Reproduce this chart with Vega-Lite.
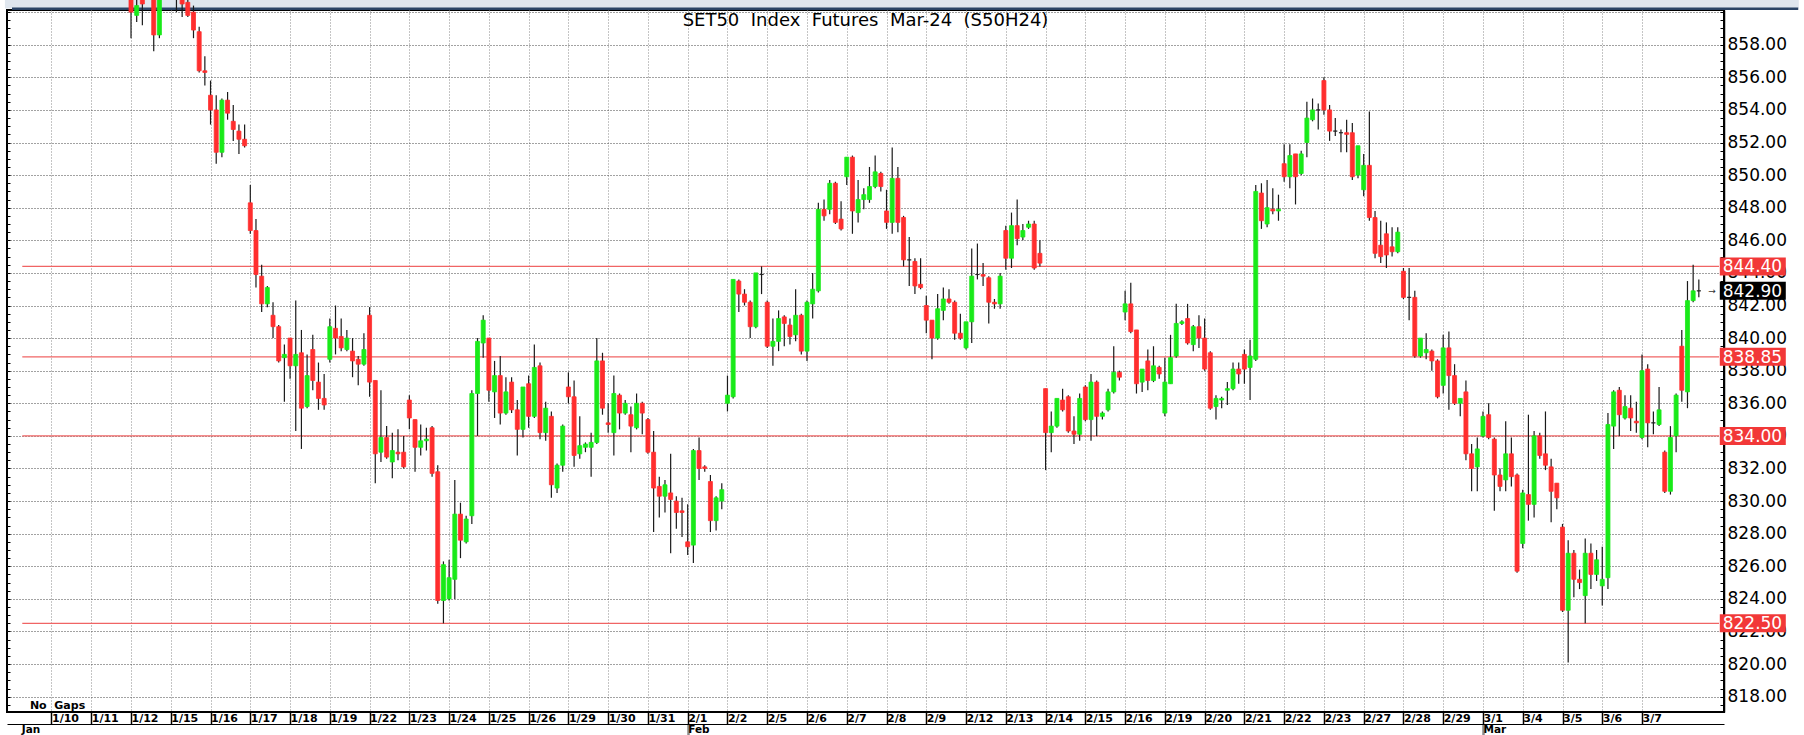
{
  "$schema": "https://vega.github.io/schema/vega-lite/v6.json",
  "width": 1717,
  "height": 702,
  "autosize": {"type": "none"},
  "padding": {"left": 7, "top": 10, "right": 80, "bottom": 23},
  "background": "white",
  "config": {"view": {"stroke": "#000", "strokeWidth": 2}},
  "datasets": {
    "levels": [
      {"price": 844.4, "label": "844.40", "kind": "level"},
      {"price": 838.85, "label": "838.85", "kind": "level"},
      {"price": 834.0, "label": "834.00", "kind": "level"},
      {"price": 822.5, "label": "822.50", "kind": "level"},
      {"price": 842.9, "label": "842.90", "kind": "last"}
    ],
    "bars": [
      {"n":21,"o":861.0,"h":861.5,"l":858.4,"c":860.0},
      {"n":22,"o":859.8,"h":861.0,"l":859.4,"c":860.4},
      {"n":23,"o":860.8,"h":861.3,"l":859.2,"c":860.5},
      {"n":25,"o":861.2,"h":861.6,"l":857.6,"c":858.6},
      {"n":26,"o":858.6,"h":861.2,"l":858.4,"c":860.8},
      {"n":29,"o":861.2,"h":861.5,"l":860.0,"c":860.8},
      {"n":30,"o":861.0,"h":861.5,"l":859.7,"c":860.5},
      {"n":31,"o":860.6,"h":861.0,"l":859.7,"c":859.8},
      {"n":32,"o":860.0,"h":860.4,"l":858.4,"c":858.9},
      {"n":33,"o":858.8,"h":859.1,"l":856.3,"c":856.4},
      {"n":34,"o":856.4,"h":857.3,"l":855.5,"c":856.3},
      {"n":35,"o":854.9,"h":855.8,"l":853.1,"c":854.0},
      {"n":36,"o":854.0,"h":854.9,"l":850.7,"c":851.4},
      {"n":37,"o":851.4,"h":854.7,"l":851.1,"c":854.6},
      {"n":38,"o":854.6,"h":855.1,"l":853.4,"c":853.8},
      {"n":39,"o":853.3,"h":854.3,"l":852.1,"c":852.8},
      {"n":40,"o":852.7,"h":853.1,"l":851.3,"c":852.2},
      {"n":41,"o":852.2,"h":853.1,"l":851.7,"c":851.8},
      {"n":42,"o":848.3,"h":849.4,"l":846.4,"c":846.6},
      {"n":43,"o":846.6,"h":847.3,"l":843.1,"c":843.9},
      {"n":44,"o":843.8,"h":844.5,"l":841.6,"c":842.1},
      {"n":45,"o":842.1,"h":843.2,"l":841.9,"c":843.1},
      {"n":46,"o":841.4,"h":842.2,"l":840.0,"c":840.7},
      {"n":47,"o":840.7,"h":840.8,"l":838.5,"c":838.6},
      {"n":48,"o":838.8,"h":839.6,"l":836.1,"c":839.0},
      {"n":49,"o":840.0,"h":840.0,"l":837.5,"c":838.3},
      {"n":50,"o":838.3,"h":842.3,"l":834.3,"c":839.0},
      {"n":51,"o":839.1,"h":840.5,"l":833.2,"c":835.7},
      {"n":52,"o":835.8,"h":839.0,"l":835.7,"c":837.7},
      {"n":53,"o":839.3,"h":840.2,"l":836.8,"c":837.4},
      {"n":54,"o":837.3,"h":838.5,"l":835.6,"c":836.3},
      {"n":55,"o":836.3,"h":837.8,"l":835.6,"c":835.9},
      {"n":56,"o":838.7,"h":841.2,"l":838.5,"c":840.7},
      {"n":57,"o":840.6,"h":842.0,"l":839.0,"c":840.0},
      {"n":58,"o":840.1,"h":841.2,"l":839.2,"c":839.4},
      {"n":59,"o":839.3,"h":840.5,"l":839.2,"c":840.0},
      {"n":60,"o":839.2,"h":840.0,"l":837.6,"c":838.6},
      {"n":61,"o":838.7,"h":838.9,"l":837.1,"c":838.4},
      {"n":62,"o":838.4,"h":840.3,"l":838.3,"c":839.3},
      {"n":63,"o":841.4,"h":841.9,"l":836.4,"c":837.3},
      {"n":64,"o":837.4,"h":837.4,"l":831.1,"c":832.9},
      {"n":65,"o":833.0,"h":836.8,"l":832.4,"c":833.9},
      {"n":66,"o":833.9,"h":834.6,"l":832.6,"c":832.7},
      {"n":67,"o":832.4,"h":834.2,"l":831.4,"c":833.1},
      {"n":68,"o":833.0,"h":834.4,"l":832.5,"c":832.9},
      {"n":69,"o":833.0,"h":834.0,"l":832.0,"c":832.1},
      {"n":70,"o":836.2,"h":836.5,"l":834.4,"c":835.1},
      {"n":71,"o":835.0,"h":835.0,"l":831.8,"c":833.3},
      {"n":72,"o":833.3,"h":834.7,"l":832.8,"c":833.7},
      {"n":73,"o":833.7,"h":834.5,"l":833.1,"c":833.8},
      {"n":74,"o":834.5,"h":834.6,"l":831.5,"c":831.7},
      {"n":75,"o":831.8,"h":832.2,"l":823.7,"c":823.9},
      {"n":76,"o":823.9,"h":826.3,"l":822.5,"c":826.1},
      {"n":77,"o":824.0,"h":826.4,"l":823.9,"c":825.3},
      {"n":78,"o":825.2,"h":831.3,"l":824.0,"c":829.2},
      {"n":79,"o":829.2,"h":829.9,"l":826.5,"c":827.6},
      {"n":80,"o":827.5,"h":829.1,"l":827.4,"c":828.9},
      {"n":81,"o":829.1,"h":836.8,"l":828.6,"c":836.6},
      {"n":82,"o":836.6,"h":840.0,"l":834.0,"c":839.8},
      {"n":83,"o":839.7,"h":841.4,"l":838.8,"c":841.1},
      {"n":84,"o":840.0,"h":840.0,"l":836.1,"c":836.8},
      {"n":85,"o":836.7,"h":838.6,"l":835.1,"c":837.7},
      {"n":86,"o":837.7,"h":838.9,"l":834.7,"c":835.4},
      {"n":87,"o":835.4,"h":837.6,"l":835.3,"c":836.7},
      {"n":88,"o":837.3,"h":837.6,"l":835.4,"c":835.6},
      {"n":89,"o":835.6,"h":836.2,"l":832.8,"c":834.4},
      {"n":90,"o":834.4,"h":837.0,"l":833.9,"c":837.0},
      {"n":91,"o":837.2,"h":837.7,"l":834.5,"c":835.2},
      {"n":92,"o":835.2,"h":839.6,"l":835.1,"c":838.2},
      {"n":93,"o":838.3,"h":838.5,"l":833.8,"c":834.2},
      {"n":94,"o":834.2,"h":836.1,"l":833.7,"c":835.7},
      {"n":95,"o":835.2,"h":835.5,"l":830.2,"c":831.0},
      {"n":96,"o":830.8,"h":832.3,"l":830.5,"c":832.2},
      {"n":97,"o":832.2,"h":834.7,"l":831.8,"c":834.6},
      {"n":98,"o":837.0,"h":837.9,"l":836.0,"c":836.4},
      {"n":99,"o":836.4,"h":837.4,"l":832.1,"c":832.8},
      {"n":100,"o":832.9,"h":835.2,"l":832.6,"c":833.4},
      {"n":101,"o":833.3,"h":833.6,"l":833.0,"c":833.5},
      {"n":102,"o":833.3,"h":834.2,"l":831.5,"c":833.6},
      {"n":103,"o":833.6,"h":840.0,"l":833.5,"c":838.6},
      {"n":104,"o":838.6,"h":839.1,"l":835.3,"c":835.7},
      {"n":105,"o":834.8,"h":836.0,"l":834.2,"c":834.7},
      {"n":106,"o":834.2,"h":837.7,"l":832.8,"c":836.6},
      {"n":107,"o":836.5,"h":836.6,"l":834.4,"c":835.4},
      {"n":108,"o":835.4,"h":836.2,"l":835.3,"c":836.0},
      {"n":109,"o":835.3,"h":835.8,"l":833.0,"c":834.6},
      {"n":110,"o":834.5,"h":836.6,"l":834.4,"c":836.0},
      {"n":111,"o":836.0,"h":836.1,"l":834.1,"c":835.4},
      {"n":112,"o":835.0,"h":835.1,"l":832.9,"c":833.0},
      {"n":113,"o":833.0,"h":834.3,"l":828.1,"c":830.8},
      {"n":114,"o":830.9,"h":831.5,"l":829.0,"c":830.3},
      {"n":115,"o":830.3,"h":831.3,"l":829.3,"c":831.0},
      {"n":116,"o":830.5,"h":832.9,"l":826.8,"c":830.1},
      {"n":117,"o":830.0,"h":830.3,"l":828.3,"c":829.3},
      {"n":118,"o":829.4,"h":830.2,"l":827.8,"c":829.3},
      {"n":119,"o":827.5,"h":829.8,"l":826.7,"c":827.2},
      {"n":120,"o":827.3,"h":833.2,"l":826.2,"c":833.1},
      {"n":121,"o":833.1,"h":833.9,"l":831.3,"c":832.0},
      {"n":122,"o":832.1,"h":832.2,"l":831.8,"c":832.0},
      {"n":123,"o":831.2,"h":831.6,"l":828.1,"c":828.8},
      {"n":124,"o":828.8,"h":830.3,"l":828.2,"c":830.2},
      {"n":125,"o":830.0,"h":831.1,"l":829.5,"c":830.7},
      {"n":126,"o":836.0,"h":837.7,"l":835.5,"c":836.5},
      {"n":127,"o":836.4,"h":843.6,"l":836.3,"c":843.6},
      {"n":128,"o":843.5,"h":843.6,"l":841.6,"c":842.7},
      {"n":129,"o":842.7,"h":843.0,"l":842.0,"c":842.2},
      {"n":130,"o":842.2,"h":842.3,"l":840.0,"c":840.7},
      {"n":131,"o":840.7,"h":844.0,"l":840.6,"c":844.0},
      {"n":132,"o":843.9,"h":844.4,"l":842.7,"c":843.9},
      {"n":133,"o":842.2,"h":842.3,"l":839.4,"c":839.5},
      {"n":134,"o":839.5,"h":841.2,"l":838.3,"c":839.8},
      {"n":135,"o":839.8,"h":841.7,"l":839.2,"c":841.2},
      {"n":136,"o":841.3,"h":841.4,"l":839.5,"c":840.9},
      {"n":137,"o":840.8,"h":841.2,"l":839.6,"c":840.1},
      {"n":138,"o":840.2,"h":843.0,"l":839.8,"c":841.4},
      {"n":139,"o":841.4,"h":841.5,"l":839.0,"c":839.2},
      {"n":140,"o":839.2,"h":842.3,"l":838.6,"c":842.2},
      {"n":141,"o":842.1,"h":844.0,"l":841.2,"c":843.0},
      {"n":142,"o":842.9,"h":848.3,"l":842.8,"c":847.9},
      {"n":143,"o":847.9,"h":848.5,"l":847.2,"c":847.5},
      {"n":144,"o":847.9,"h":849.7,"l":847.6,"c":849.5},
      {"n":145,"o":849.5,"h":849.6,"l":847.0,"c":847.1},
      {"n":146,"o":847.3,"h":848.4,"l":846.6,"c":846.7},
      {"n":147,"o":849.9,"h":851.1,"l":849.4,"c":851.1},
      {"n":148,"o":851.1,"h":851.2,"l":846.4,"c":847.8},
      {"n":149,"o":847.7,"h":849.7,"l":847.1,"c":848.5},
      {"n":150,"o":848.5,"h":849.2,"l":847.9,"c":848.8},
      {"n":151,"o":848.5,"h":850.5,"l":848.3,"c":849.3},
      {"n":152,"o":849.3,"h":851.2,"l":849.2,"c":850.2},
      {"n":153,"o":850.1,"h":850.2,"l":849.0,"c":849.3},
      {"n":154,"o":847.8,"h":849.1,"l":846.7,"c":847.1},
      {"n":155,"o":847.1,"h":851.7,"l":846.4,"c":849.8},
      {"n":156,"o":849.8,"h":850.5,"l":846.5,"c":847.1},
      {"n":157,"o":847.4,"h":847.5,"l":844.4,"c":844.8},
      {"n":158,"o":844.8,"h":846.2,"l":843.2,"c":844.8},
      {"n":159,"o":844.7,"h":844.9,"l":842.7,"c":843.2},
      {"n":160,"o":843.3,"h":844.9,"l":843.0,"c":843.1},
      {"n":161,"o":842.0,"h":842.6,"l":840.3,"c":841.1},
      {"n":162,"o":841.1,"h":841.1,"l":838.7,"c":840.0},
      {"n":163,"o":840.0,"h":842.7,"l":839.9,"c":841.8},
      {"n":164,"o":841.7,"h":843.1,"l":841.1,"c":842.4},
      {"n":165,"o":842.4,"h":843.0,"l":842.1,"c":842.2},
      {"n":166,"o":842.2,"h":842.3,"l":839.9,"c":840.3},
      {"n":167,"o":840.3,"h":841.5,"l":839.9,"c":840.0},
      {"n":168,"o":839.4,"h":841.0,"l":839.3,"c":841.0},
      {"n":169,"o":841.0,"h":845.5,"l":839.7,"c":843.8},
      {"n":170,"o":843.9,"h":845.8,"l":843.6,"c":843.9},
      {"n":171,"o":843.9,"h":844.6,"l":843.2,"c":843.8},
      {"n":172,"o":843.7,"h":843.8,"l":840.9,"c":842.2},
      {"n":173,"o":842.2,"h":842.4,"l":841.8,"c":842.1},
      {"n":174,"o":842.1,"h":844.0,"l":841.8,"c":843.8},
      {"n":175,"o":846.6,"h":846.9,"l":844.2,"c":844.9},
      {"n":176,"o":844.9,"h":847.7,"l":844.3,"c":846.9},
      {"n":177,"o":846.9,"h":848.5,"l":845.7,"c":846.1},
      {"n":178,"o":846.2,"h":847.0,"l":846.0,"c":846.6},
      {"n":179,"o":846.8,"h":847.2,"l":846.7,"c":847.0},
      {"n":180,"o":847.0,"h":847.2,"l":844.2,"c":844.3},
      {"n":181,"o":845.2,"h":846.0,"l":844.4,"c":844.6},
      {"n":182,"o":836.9,"h":836.9,"l":831.9,"c":834.2},
      {"n":183,"o":834.2,"h":835.5,"l":833.0,"c":834.6},
      {"n":184,"o":834.6,"h":836.3,"l":834.5,"c":836.3},
      {"n":185,"o":836.2,"h":836.9,"l":835.5,"c":835.6},
      {"n":186,"o":836.4,"h":836.5,"l":834.2,"c":834.3},
      {"n":187,"o":834.3,"h":835.2,"l":833.5,"c":834.1},
      {"n":188,"o":834.1,"h":836.6,"l":833.7,"c":836.3},
      {"n":189,"o":837.0,"h":837.1,"l":834.9,"c":835.0},
      {"n":190,"o":835.0,"h":837.8,"l":833.7,"c":837.3},
      {"n":191,"o":837.3,"h":837.4,"l":834.0,"c":835.2},
      {"n":192,"o":835.2,"h":835.5,"l":835.0,"c":835.4},
      {"n":193,"o":835.6,"h":836.9,"l":835.5,"c":836.7},
      {"n":194,"o":836.7,"h":839.5,"l":836.6,"c":837.9},
      {"n":195,"o":837.9,"h":838.0,"l":837.4,"c":837.6},
      {"n":196,"o":841.6,"h":842.9,"l":841.1,"c":842.1},
      {"n":197,"o":842.1,"h":843.4,"l":840.3,"c":840.4},
      {"n":198,"o":840.5,"h":840.5,"l":836.6,"c":837.2},
      {"n":199,"o":837.3,"h":838.1,"l":836.7,"c":838.1},
      {"n":200,"o":838.6,"h":839.3,"l":836.8,"c":837.4},
      {"n":201,"o":837.4,"h":839.5,"l":837.3,"c":838.3},
      {"n":202,"o":838.2,"h":838.3,"l":837.5,"c":837.8},
      {"n":203,"o":835.4,"h":838.8,"l":835.2,"c":837.3},
      {"n":204,"o":837.2,"h":840.2,"l":837.2,"c":838.8},
      {"n":205,"o":838.9,"h":842.1,"l":838.8,"c":840.9},
      {"n":206,"o":840.9,"h":841.1,"l":840.8,"c":841.0},
      {"n":207,"o":841.2,"h":842.1,"l":839.6,"c":839.7},
      {"n":208,"o":839.6,"h":840.8,"l":839.2,"c":840.7},
      {"n":209,"o":840.7,"h":841.4,"l":839.4,"c":840.0},
      {"n":210,"o":840.0,"h":841.2,"l":838.0,"c":838.1},
      {"n":211,"o":839.1,"h":839.2,"l":835.6,"c":835.7},
      {"n":212,"o":835.8,"h":836.5,"l":835.0,"c":836.3},
      {"n":213,"o":836.2,"h":836.4,"l":835.7,"c":836.3},
      {"n":214,"o":836.8,"h":837.3,"l":835.9,"c":836.9},
      {"n":215,"o":836.9,"h":838.5,"l":836.8,"c":838.1},
      {"n":216,"o":838.1,"h":838.5,"l":837.2,"c":837.8},
      {"n":217,"o":839.0,"h":839.3,"l":837.2,"c":838.1},
      {"n":218,"o":838.2,"h":839.9,"l":836.2,"c":838.9},
      {"n":219,"o":838.7,"h":849.4,"l":838.6,"c":849.0},
      {"n":220,"o":848.9,"h":849.5,"l":846.7,"c":847.2},
      {"n":221,"o":847.0,"h":849.7,"l":846.8,"c":848.0},
      {"n":222,"o":847.9,"h":849.2,"l":847.6,"c":847.8},
      {"n":223,"o":847.8,"h":848.8,"l":847.2,"c":847.9},
      {"n":224,"o":850.7,"h":851.9,"l":849.6,"c":849.9},
      {"n":225,"o":849.9,"h":851.9,"l":849.2,"c":851.2},
      {"n":226,"o":851.3,"h":851.3,"l":848.2,"c":849.9},
      {"n":227,"o":850.1,"h":851.5,"l":850.0,"c":851.3},
      {"n":228,"o":852.0,"h":854.5,"l":851.1,"c":853.5},
      {"n":229,"o":853.4,"h":854.7,"l":853.3,"c":854.0},
      {"n":230,"o":854.0,"h":854.4,"l":852.8,"c":854.0},
      {"n":231,"o":855.8,"h":856.0,"l":853.7,"c":854.0},
      {"n":232,"o":854.0,"h":854.3,"l":852.1,"c":852.7},
      {"n":233,"o":852.7,"h":853.5,"l":852.4,"c":852.7},
      {"n":234,"o":852.6,"h":852.8,"l":851.4,"c":852.6},
      {"n":235,"o":852.6,"h":853.4,"l":851.4,"c":852.5},
      {"n":236,"o":852.6,"h":853.2,"l":849.7,"c":849.9},
      {"n":237,"o":850.0,"h":851.8,"l":849.8,"c":851.8},
      {"n":238,"o":849.1,"h":851.3,"l":848.7,"c":850.6},
      {"n":239,"o":850.6,"h":853.9,"l":847.2,"c":847.4},
      {"n":240,"o":847.4,"h":847.8,"l":844.9,"c":845.2},
      {"n":241,"o":845.7,"h":847.2,"l":844.6,"c":845.0},
      {"n":242,"o":846.4,"h":847.1,"l":844.3,"c":845.1},
      {"n":243,"o":845.6,"h":846.8,"l":845.0,"c":845.3},
      {"n":244,"o":845.3,"h":846.8,"l":845.2,"c":846.5},
      {"n":245,"o":844.1,"h":844.3,"l":842.4,"c":842.5},
      {"n":246,"o":842.5,"h":844.3,"l":841.1,"c":842.5},
      {"n":247,"o":842.5,"h":842.9,"l":838.8,"c":838.9},
      {"n":248,"o":838.9,"h":840.0,"l":838.8,"c":840.0},
      {"n":249,"o":839.1,"h":840.3,"l":838.7,"c":839.3},
      {"n":250,"o":839.2,"h":839.3,"l":838.0,"c":838.6},
      {"n":251,"o":838.6,"h":838.7,"l":836.3,"c":836.4},
      {"n":252,"o":837.1,"h":840.2,"l":836.6,"c":839.4},
      {"n":253,"o":839.4,"h":840.4,"l":835.6,"c":837.7},
      {"n":254,"o":837.7,"h":838.4,"l":835.9,"c":836.0},
      {"n":255,"o":836.0,"h":836.3,"l":835.2,"c":836.3},
      {"n":256,"o":836.7,"h":837.4,"l":832.5,"c":832.9},
      {"n":257,"o":832.9,"h":833.5,"l":830.6,"c":832.0},
      {"n":258,"o":832.1,"h":833.9,"l":830.6,"c":833.2},
      {"n":259,"o":834.0,"h":835.5,"l":833.9,"c":835.2},
      {"n":260,"o":835.3,"h":836.0,"l":833.8,"c":833.9},
      {"n":261,"o":833.8,"h":833.9,"l":829.4,"c":831.6},
      {"n":262,"o":831.6,"h":832.0,"l":830.6,"c":830.9},
      {"n":263,"o":831.3,"h":834.9,"l":830.6,"c":832.9},
      {"n":264,"o":832.9,"h":833.9,"l":830.9,"c":831.5},
      {"n":265,"o":831.6,"h":831.7,"l":825.6,"c":825.7},
      {"n":266,"o":827.4,"h":830.7,"l":827.1,"c":830.5},
      {"n":267,"o":830.4,"h":835.3,"l":828.8,"c":829.8},
      {"n":268,"o":829.8,"h":834.3,"l":829.0,"c":834.0},
      {"n":269,"o":834.0,"h":834.2,"l":832.6,"c":832.8},
      {"n":270,"o":832.9,"h":835.5,"l":831.9,"c":832.2},
      {"n":271,"o":832.1,"h":832.6,"l":828.7,"c":830.6},
      {"n":272,"o":831.1,"h":831.1,"l":829.5,"c":830.2},
      {"n":273,"o":828.4,"h":828.6,"l":823.2,"c":823.3},
      {"n":274,"o":823.3,"h":827.6,"l":820.1,"c":826.8},
      {"n":275,"o":826.8,"h":827.0,"l":824.1,"c":825.2},
      {"n":276,"o":825.2,"h":825.8,"l":824.6,"c":825.0},
      {"n":277,"o":824.2,"h":827.7,"l":822.5,"c":826.8},
      {"n":278,"o":826.8,"h":827.4,"l":824.6,"c":825.5},
      {"n":279,"o":825.5,"h":827.0,"l":825.1,"c":826.4},
      {"n":280,"o":824.8,"h":827.2,"l":823.6,"c":825.2},
      {"n":281,"o":825.3,"h":835.4,"l":824.6,"c":834.7},
      {"n":282,"o":834.6,"h":836.8,"l":833.2,"c":836.7},
      {"n":283,"o":836.8,"h":837.0,"l":834.0,"c":835.3},
      {"n":284,"o":835.1,"h":836.5,"l":835.0,"c":835.8},
      {"n":285,"o":835.7,"h":836.5,"l":834.3,"c":835.1},
      {"n":286,"o":834.9,"h":836.1,"l":834.2,"c":834.8},
      {"n":287,"o":833.9,"h":839.0,"l":833.8,"c":838.0},
      {"n":288,"o":838.1,"h":838.4,"l":833.3,"c":834.8},
      {"n":289,"o":834.8,"h":835.5,"l":834.1,"c":834.8},
      {"n":290,"o":834.7,"h":837.0,"l":834.6,"c":835.6},
      {"n":291,"o":833.0,"h":833.1,"l":830.5,"c":830.6},
      {"n":292,"o":830.6,"h":834.6,"l":830.4,"c":833.9},
      {"n":293,"o":834.0,"h":836.6,"l":833.0,"c":836.5},
      {"n":294,"o":839.5,"h":840.5,"l":836.1,"c":836.8},
      {"n":295,"o":836.7,"h":843.5,"l":835.7,"c":842.3},
      {"n":296,"o":842.3,"h":844.5,"l":842.2,"c":842.9},
      {"n":297,"o":842.9,"h":843.6,"l":842.5,"c":842.9}
    ]
  },
  "resolve": {"axis": {"x": "independent", "y": "independent"}},
  "layer": [
    {
      "data": {"values": [{}]},
      "mark": {"type": "rect", "clip": false, "color": "#dfe6ee"},
      "encoding": {
        "x": {"datum": -1.2, "type": "quantitative", "scale": {"domain": [0.05, 300.55], "nice": false, "zero": false}, "axis": null},
        "x2": {"datum": 314.6},
        "y": {"datum": 860.75, "type": "quantitative", "scale": {"domain": [817.06, 860.13], "nice": false, "zero": false}, "axis": null},
        "y2": {"datum": 860.22}
      }
    },
    {
      "data": {"values": [{}]},
      "mark": {"type": "rule", "clip": false, "color": "#2b4466", "strokeWidth": 2.5},
      "encoding": {
        "x": {"datum": 0.05, "type": "quantitative", "scale": {"domain": [0.05, 300.55], "nice": false, "zero": false}, "axis": null},
        "x2": {"datum": 314.5},
        "y": {"datum": 860.2, "type": "quantitative", "scale": {"domain": [817.06, 860.13], "nice": false, "zero": false}, "axis": null}
      }
    },
    {
      "data": {"name": "levels"},
      "transform": [{"filter": "datum.kind == 'level'"}],
      "mark": {"type": "rule", "color": "#f06464", "strokeWidth": 1.4},
      "encoding": {
        "x": {"datum": 1.86, "type": "quantitative", "scale": {"domain": [0.05, 300.55], "nice": false, "zero": false}, "axis": null},
        "x2": {"datum": 300.55},
        "y": {"field": "price", "type": "quantitative", "scale": {"domain": [817.06, 860.13], "nice": false, "zero": false},
          "axis": {"orient": "left", "values": [817.5,818,818.5,819,819.5,820,820.5,821,821.5,822,822.5,823,823.5,824,824.5,825,825.5,826,826.5,827,827.5,828,828.5,829,829.5,830,830.5,831,831.5,832,832.5,833,833.5,834,834.5,835,835.5,836,836.5,837,837.5,838,838.5,839,839.5,840,840.5,841,841.5,842,842.5,843,843.5,844,844.5,845,845.5,846,846.5,847,847.5,848,848.5,849,849.5,850,850.5,851,851.5,852,852.5,853,853.5,854,854.5,855,855.5,856,856.5,857,857.5,858,858.5,859,859.5,860], "labels": false, "domain": false, "grid": false, "ticks": true, "tickSize": -3, "tickColor": "#000", "tickWidth": 1, "title": null}}
      }
    },
    {
      "data": {"name": "bars"},
      "mark": {"type": "rule", "color": "#1a1a1a", "strokeWidth": 1.2},
      "encoding": {
        "x": {"field": "n", "type": "quantitative", "scale": {"domain": [0.05, 300.55], "nice": false, "zero": false},
          "axis": {"orient": "bottom", "values": [7,14,21,28,35,42,49,56,63,70,77,84,91,98,105,112,119,126,133,140,147,154,161,168,175,182,189,196,203,210,217,224,231,238,245,252,259,266,273,280,287],
            "labelExpr": "['','1/10','1/11','1/12','1/15','1/16','1/17','1/18','1/19','1/22','1/23','1/24','1/25','1/26','1/29','1/30','1/31','2/1','2/2','2/5','2/6','2/7','2/8','2/9','2/12','2/13','2/14','2/15','2/16','2/19','2/20','2/21','2/22','2/23','2/27','2/28','2/29','3/1','3/4','3/5','3/6','3/7'][round(datum.value/7)]",
            "labelAlign": "left", "labelBaseline": "middle", "labelPadding": -6, "labelDx": 2.5, "labelFont": "DejaVu Sans", "labelFontWeight": "bold", "labelFontSize": 11, "labelColor": "#000", "labelOverlap": false, "labelBound": false, "labelFlush": false,
            "ticks": true, "tickSize": 12, "tickColor": "#000", "tickWidth": 1.5,
            "domain": true, "domainColor": "#000", "domainWidth": 1,
            "grid": true, "gridColor": "#8a8a8a", "gridDash": [1, 2], "gridWidth": 1, "title": null}},
        "y": {"field": "l", "type": "quantitative", "scale": {"domain": [817.06, 860.13], "nice": false, "zero": false},
          "axis": {"orient": "right", "values": [818,820,822,824,826,828,830,832,834,836,838,840,842,844,846,848,850,852,854,856,858,860],
            "labelExpr": "datum.value > 859 ? '' : format(datum.value, '.2f')",
            "labelFont": "DejaVu Sans", "labelFontSize": 17, "labelColor": "#000", "labelPadding": 3, "labelBaseline": "middle", "labelOverlap": false, "labelBound": false, "labelFlush": false,
            "ticks": false, "domain": true, "domainColor": "#000", "domainWidth": 1.5,
            "grid": true, "gridColor": "#444", "gridDash": [1, 2], "gridWidth": 1, "title": null}},
        "y2": {"field": "h"}
      }
    },
    {
      "data": {"name": "bars"},
      "mark": {"type": "bar", "width": 4, "strokeWidth": 0.8},
      "encoding": {
        "x": {"field": "n", "type": "quantitative", "scale": {"domain": [0.05, 300.55], "nice": false, "zero": false},
          "axis": {"orient": "bottom", "offset": 12, "values": [1.7, 119, 259],
            "labelExpr": "datum.value < 10 ? 'Jan' : datum.value < 200 ? 'Feb' : 'Mar'",
            "labelAlign": "left", "labelBaseline": "middle", "labelPadding": -6, "labelDx": 3, "labelFont": "DejaVu Sans", "labelFontWeight": "bold", "labelFontSize": 10.5, "labelColor": "#000", "labelOverlap": false, "labelBound": false, "labelFlush": false,
            "ticks": true, "tickSize": 11, "tickWidth": 2.5, "tickColor": {"condition": {"test": "datum.value < 10", "value": "transparent"}, "value": "#8a8a8a"},
            "domain": true, "domainColor": "#000", "domainWidth": 1, "grid": false, "title": null}},
        "y": {"field": "o", "type": "quantitative", "scale": {"domain": [817.06, 860.13], "nice": false, "zero": false},
          "axis": {"orient": "right", "values": [817.5,818,818.5,819,819.5,820,820.5,821,821.5,822,822.5,823,823.5,824,824.5,825,825.5,826,826.5,827,827.5,828,828.5,829,829.5,830,830.5,831,831.5,832,832.5,833,833.5,834,834.5,835,835.5,836,836.5,837,837.5,838,838.5,839,839.5,840,840.5,841,841.5,842,842.5,843,843.5,844,844.5,845,845.5,846,846.5,847,847.5,848,848.5,849,849.5,850,850.5,851,851.5,852,852.5,853,853.5,854,854.5,855,855.5,856,856.5,857,857.5,858,858.5,859,859.5,860], "labels": false, "domain": false, "grid": false, "ticks": true, "tickSize": -4, "tickColor": "#000", "tickWidth": 1, "title": null}},
        "y2": {"field": "c"},
        "fill": {"condition": [{"test": "datum.c > datum.o", "value": "#19ea19"}, {"test": "datum.c < datum.o", "value": "#ff2e2e"}], "value": "#222222"},
        "stroke": {"condition": [{"test": "datum.c > datum.o", "value": "#19ea19"}, {"test": "datum.c < datum.o", "value": "#ff2e2e"}], "value": "#222222"}
      }
    },
    {
      "data": {"name": "levels"},
      "mark": {"type": "tick", "orient": "horizontal", "clip": false, "size": 66, "thickness": 18, "opacity": 1},
      "encoding": {
        "x": {"datum": 306.5, "type": "quantitative", "scale": {"domain": [0.05, 300.55], "nice": false, "zero": false}, "axis": null},
        "y": {"field": "price", "type": "quantitative", "scale": {"domain": [817.06, 860.13], "nice": false, "zero": false}, "axis": null},
        "color": {"condition": {"test": "datum.kind == 'last'", "value": "#000000"}, "value": "#f23838"}
      }
    },
    {
      "data": {"name": "levels"},
      "mark": {"type": "text", "clip": false, "align": "left", "baseline": "middle", "font": "DejaVu Sans", "fontSize": 17, "color": "#ffffff", "dy": 1},
      "encoding": {
        "x": {"datum": 301.2, "type": "quantitative", "scale": {"domain": [0.05, 300.55], "nice": false, "zero": false}, "axis": null},
        "y": {"field": "price", "type": "quantitative", "scale": {"domain": [817.06, 860.13], "nice": false, "zero": false}, "axis": null},
        "text": {"field": "label"}
      }
    },
    {
      "data": {"values": [{}]},
      "mark": {"type": "text", "align": "left", "baseline": "alphabetic", "font": "DejaVu Sans", "fontWeight": "bold", "fontSize": 11, "color": "#000", "text": "No\u00a0\u00a0Gaps"},
      "encoding": {
        "x": {"datum": 3.2, "type": "quantitative", "scale": {"domain": [0.05, 300.55], "nice": false, "zero": false}, "axis": null},
        "y": {"datum": 817.25, "type": "quantitative", "scale": {"domain": [817.06, 860.13], "nice": false, "zero": false}, "axis": null}
      }
    },
    {
      "data": {"values": [{}]},
      "mark": {"type": "text", "align": "center", "baseline": "middle", "font": "DejaVu Sans", "fontSize": 9, "color": "#333", "text": "→"},
      "encoding": {
        "x": {"datum": 299.3, "type": "quantitative", "scale": {"domain": [0.05, 300.55], "nice": false, "zero": false}, "axis": null},
        "y": {"datum": 842.9, "type": "quantitative", "scale": {"domain": [817.06, 860.13], "nice": false, "zero": false}, "axis": null}
      }
    },
    {
      "data": {"values": [{}]},
      "mark": {"type": "text", "align": "center", "baseline": "alphabetic", "font": "DejaVu Sans", "fontSize": 18, "color": "#000", "text": "SET50\u00a0\u00a0Index\u00a0\u00a0Futures\u00a0\u00a0Mar-24\u00a0\u00a0(S50H24)"},
      "encoding": {
        "x": {"datum": 150.3, "type": "quantitative", "scale": {"domain": [0.05, 300.55], "nice": false, "zero": false}, "axis": null},
        "y": {"datum": 859.15, "type": "quantitative", "scale": {"domain": [817.06, 860.13], "nice": false, "zero": false}, "axis": null}
      }
    }
  ]
}
